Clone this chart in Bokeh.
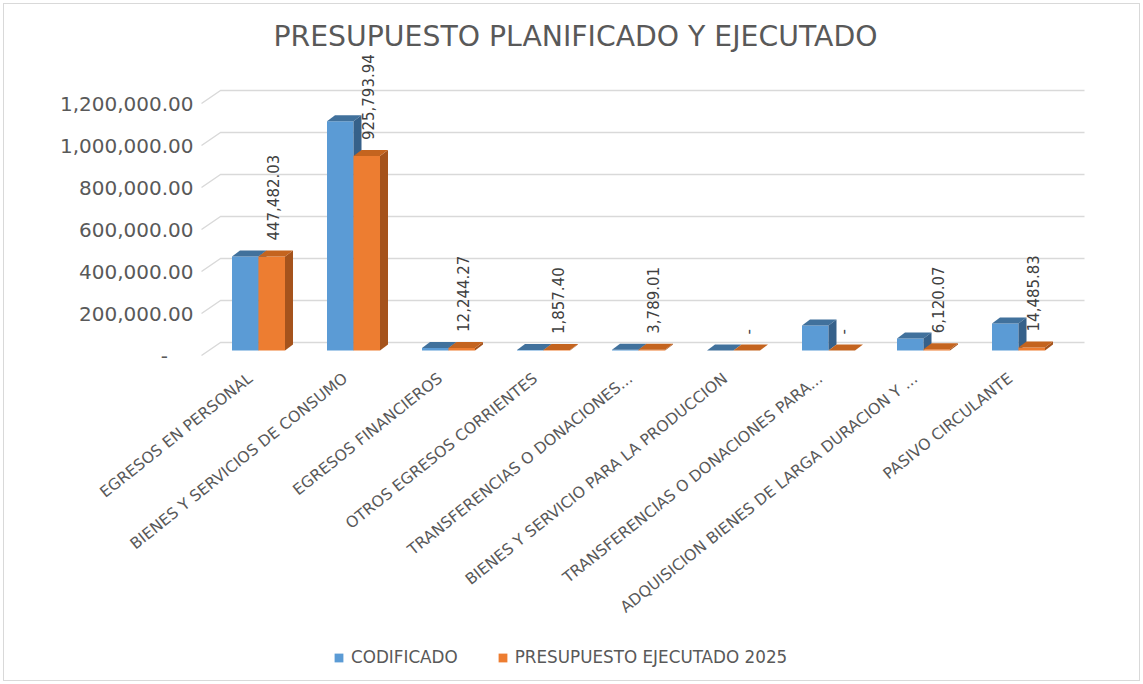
import math
from bokeh.plotting import figure
from bokeh.layouts import column
from bokeh.models import (ColumnDataSource, FixedTicker, Legend, LegendItem,
                          Range1d, LinearAxis)
from bokeh.embed import file_html
from bokeh.resources import INLINE
from bokeh.core.properties import value

# ---------------- data ----------------
categories = [
    "EGRESOS EN PERSONAL",
    "BIENES Y SERVICIOS DE CONSUMO",
    "EGRESOS FINANCIEROS",
    "OTROS EGRESOS CORRIENTES",
    "TRANSFERENCIAS O DONACIONES...",
    "BIENES Y SERVICIO PARA LA PRODUCCION",
    "TRANSFERENCIAS O DONACIONES PARA...",
    "ADQUISICION BIENES DE LARGA DURACION Y ...",
    "PASIVO CIRCULANTE",
]
codificado = [447500.0, 1092000.0, 12300.0, 1900.0, 3800.0, 0.0, 119000.0, 57000.0, 128000.0]
ejecutado = [447482.03, 925793.94, 12244.27, 1857.40, 3789.01, 0.0, 0.0, 6120.07, 14485.83]
y_ticks = [0, 200000, 400000, 600000, 800000, 1000000, 1200000]
series_names = ["CODIFICADO", "PRESUPUESTO EJECUTADO 2025"]

# ---------------- geometry (pixel based, page coords minus outer margin) ----------------
M = 4                            # outer margin (border drawn in it)
PX_PER_X = 95.0                  # pixels per category
VAL_PER_PX = 1200000.0 / 252.0   # value units per pixel
FRAME_L, FRAME_R, FRAME_T, FRAME_B = 195 - M, 1095 - M, 52 - M, 362 - M
FRAME_W, FRAME_H = FRAME_R - FRAME_L, FRAME_B - FRAME_T
CENTER0 = 258.0 - M              # first category centre
ZERO_Y = 355.0 - M               # value 0 on front plane
x_start = (FRAME_L - CENTER0) / PX_PER_X
y_start = (ZERO_Y - FRAME_B) * VAL_PER_PX

W = 1143 - 2 * M
H_MAIN = 640 - M
H_LEG = 684 - 2 * M - H_MAIN

bar_w = 26.5 / PX_PER_X
half = bar_w / 2.0
base = 5.0 * VAL_PER_PX          # bars sit back from the front plane
ddx = 8.0 / PX_PER_X             # bar depth
ddy = 6.0 * VAL_PER_PX
wall_dx = 19.0 / PX_PER_X        # wall depth
wall_dy = 13.0 * VAL_PER_PX
wall_left = -57.0 / PX_PER_X
wall_right = 826.0 / PX_PER_X

FONT = "DejaVu Sans"
GRAY = "#595959"
BLUE, ORANGE = "#5B9BD5", "#ED7D31"

p = figure(width=W, height=H_MAIN, output_backend="svg", toolbar_location=None,
           x_range=Range1d(x_start, x_start + FRAME_W / PX_PER_X),
           y_range=Range1d(y_start, y_start + FRAME_H * VAL_PER_PX),
           x_axis_type=None, min_border_left=FRAME_L, min_border_right=W - FRAME_R,
           min_border_top=FRAME_T, min_border_bottom=H_MAIN - FRAME_B,
           title="PRESUPUESTO PLANIFICADO Y EJECUTADO")
p.outline_line_color = None
p.ygrid.visible = False

p.title.align = "left"
p.title.offset = 78
p.title.text_font = FONT
p.title.text_font_size = "28.3px"
p.title.text_font_style = "normal"
p.title.text_color = GRAY
p.title.standoff = 0

# back-wall gridlines
gx, gy = [], []
for t in y_ticks:
    gx.append([wall_left, wall_left + wall_dx, wall_right])
    gy.append([t, t + wall_dy, t + wall_dy])
p.multi_line(xs=gx, ys=gy, line_color="#D9D9D9", line_width=1.5)

# bars
n = len(categories)
idx = list(range(n))

def bar_parts(vals, offset):
    xc = [i + offset for i in idx]
    tops = [v + base for v in vals]
    top_xs, top_ys, side_xs, side_ys = [], [], [], []
    for x, t in zip(xc, tops):
        x0, x1 = x - half, x + half
        top_xs.append([x0, x1, x1 + ddx, x0 + ddx])
        top_ys.append([t, t, t + ddy, t + ddy])
        side_xs.append([x1, x1 + ddx, x1 + ddx, x1])
        side_ys.append([base, base + ddy, t + ddy, t])
    return xc, tops, top_xs, top_ys, side_xs, side_ys

bx, bt, btx, bty, bsx, bsy = bar_parts(codificado, -half)
ox, ot, otx, oty, osx, osy = bar_parts(ejecutado, half)

p.vbar(x=bx, top=bt, bottom=base, width=bar_w, fill_color=BLUE, line_color=None)
p.patches(xs=btx, ys=bty, fill_color="#41719C", line_color=None)
p.patches(xs=bsx, ys=bsy, fill_color="#36618A", line_color=None)
p.vbar(x=ox, top=ot, bottom=base, width=bar_w, fill_color=ORANGE, line_color=None)
p.patches(xs=osx, ys=osy, fill_color="#A5531C", line_color=None)
p.patches(xs=otx, ys=oty, fill_color="#C4641F", line_color=None)

# data labels (executed budget)
lab = [("-" if v == 0 else f"{v:,.2f}") for v in ejecutado]
src = ColumnDataSource(dict(x=[x + 1.5 / PX_PER_X for x in ox], y=ot, t=lab))
p.text(x="x", y="y", text="t", source=src, angle=math.pi / 2,
       text_align="left", text_baseline="middle", y_offset=-16,
       text_font=value(FONT), text_font_size="15px", text_color="#404040")

# y axis
yax = p.yaxis[0]
yax.ticker = FixedTicker(ticks=y_ticks)
yax.major_label_overrides = {t: ("-" + "\u00a0" * 4 if t == 0 else f"{t:,.2f}") for t in y_ticks}
yax.axis_line_color = None
yax.major_tick_line_color = None
yax.minor_tick_line_color = None
yax.major_tick_out = 0
yax.major_label_standoff = 2
yax.major_label_text_font = FONT
yax.major_label_text_font_size = "20px"
yax.major_label_text_color = GRAY

# category axis (shifted range so rotated label ends sit just left of centres)
shift = 8.0 / PX_PER_X
p.extra_x_ranges = {"cat": Range1d(x_start + shift, x_start + shift + FRAME_W / PX_PER_X)}
xax = LinearAxis(x_range_name="cat", ticker=FixedTicker(ticks=idx),
                 major_label_overrides={i: c for i, c in enumerate(categories)})
xax.axis_line_color = None
xax.major_tick_line_color = None
xax.minor_tick_line_color = None
xax.major_tick_out = 0
xax.major_label_orientation = math.radians(38.5)
xax.major_label_standoff = 14
xax.major_label_text_font = FONT
xax.major_label_text_font_size = "15.6px"
xax.major_label_text_color = GRAY
p.add_layout(xax, "below")

# legend strip
leg = figure(width=W, height=H_LEG, output_backend="svg", toolbar_location=None,
             x_range=Range1d(0, 1), y_range=Range1d(0, 1),
             x_axis_type=None, y_axis_type=None,
             min_border_left=FRAME_L, min_border_right=W - FRAME_R,
             min_border_top=0, min_border_bottom=0)
leg.outline_line_color = None
leg.border_fill_color = "white"
leg.background_fill_color = "white"
r1 = leg.vbar(x=[0.5], top=[0.0], bottom=0.0, width=0.0, fill_color=BLUE, line_color=None)
r2 = leg.vbar(x=[0.5], top=[0.0], bottom=0.0, width=0.0, fill_color=ORANGE, line_color=None)
legend = Legend(items=[LegendItem(label=series_names[0], renderers=[r1]),
                       LegendItem(label=series_names[1], renderers=[r2])],
                location=(333 - 195, 13), orientation="horizontal",
                glyph_width=11, glyph_height=11, label_standoff=7, spacing=39,
                label_height=20, padding=0, margin=0, border_line_color=None,
                background_fill_alpha=0, label_text_font=FONT,
                label_text_font_size="16.8px", label_text_color=GRAY)
leg.add_layout(legend)

layout = column(p, leg, spacing=0, margin=(M, M, M, M),
                styles={"outline": "1px solid #D9D9D9", "outline-offset": "0px"})

open("out.html", "w").write(file_html(layout, INLINE))
